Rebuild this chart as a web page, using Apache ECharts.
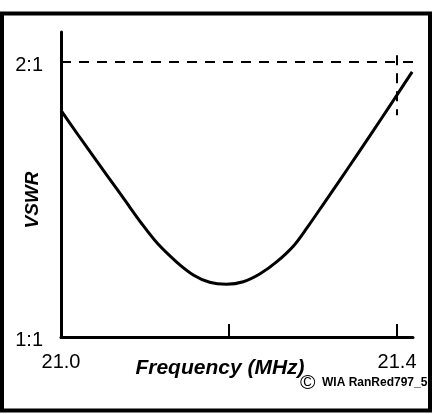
<!DOCTYPE html>
<html>
<head>
<meta charset="utf-8">
<script src="https://cdn.jsdelivr.net/npm/echarts@6/dist/echarts.min.js"></script>
<style>
html,body{margin:0;padding:0;background:#fff;}
#c{width:432px;height:414px;}
</style>
</head>
<body>
<div id="c"></div>
<script>
// Frequency (MHz) and VSWR values
var freq = [21.0, 21.020, 21.036, 21.056, 21.076, 21.096, 21.115, 21.138, 21.158, 21.177, 21.197, 21.217, 21.237, 21.257, 21.277, 21.293, 21.312, 21.332, 21.352, 21.372, 21.392, 21.400, 21.418];
var vswr = [1.825, 1.737, 1.668, 1.583, 1.498, 1.413, 1.340, 1.272, 1.225, 1.199, 1.192, 1.201, 1.230, 1.274, 1.332, 1.398, 1.482, 1.571, 1.661, 1.752, 1.844, 1.881, 1.965];
var xTickLabels = [21.0, 21.4];
var xTickMarks = [21.2, 21.4];
var yTickLabels = {1: '1:1', 2: '2:1'};
var refVswr = 2;          // 2:1 reference level
var bandEdge = 21.4;      // band edge marker
var bandEdgeSpan = [2.025, 1.807];
var xName = 'Frequency (MHz)';
var yName = 'VSWR';
var copyMark = '©';
var credit = 'WIA RanRed797_5';

var chart = echarts.init(document.getElementById('c'), null, {renderer: 'canvas'});
var font = '"Liberation Sans", Arial, sans-serif';
chart.setOption({
  animation: false,
  backgroundColor: '#fff',
  grid: {left: 61, right: 19, top: 32, bottom: 77, containLabel: false, outerBoundsMode: 'none'},
  xAxis: {
    type: 'value', min: 21.0, max: 21.419, interval: 0.2,
    axisLine: {show: true, lineStyle: {color: '#000', width: 3}},
    axisTick: {show: true, inside: true, length: 13, customValues: xTickMarks, lineStyle: {color: '#000', width: 2}},
    axisLabel: {show: true, customValues: xTickLabels, margin: 15, color: '#000', fontSize: 20, fontFamily: font,
      formatter: function (v) { return v.toFixed(1); }},
    splitLine: {show: false},
    name: xName, nameLocation: 'middle', nameGap: 21, nameMoveOverlap: false,
    nameTextStyle: {color: '#000', fontSize: 21, fontWeight: 'bold', fontStyle: 'italic', fontFamily: font, padding: [0, 34, 0, 0]}
  },
  yAxis: {
    type: 'value', min: 1, max: 2.11, interval: 1,
    axisLine: {show: true, lineStyle: {color: '#000', width: 3}},
    axisTick: {show: false},
    axisLabel: {show: true, margin: 18, color: '#000', fontSize: 20, fontFamily: font, verticalAlign: 'top', lineHeight: 6,
      formatter: function (v) { return yTickLabels[v] || ''; }},
    splitLine: {show: false},
    name: yName, nameLocation: 'middle', nameGap: 19, nameRotate: 90, nameMoveOverlap: false,
    nameTextStyle: {color: '#000', fontSize: 19, fontWeight: 'bold', fontStyle: 'italic', fontFamily: font, padding: [0, 31, 0, 0]}
  },
  series: [{
    type: 'line',
    data: freq.map(function (f, i) { return [f, vswr[i]]; }),
    smooth: 0.3,
    showSymbol: false,
    clip: false,
    lineStyle: {color: '#000', width: 3},
    markLine: {
      silent: true,
      symbol: ['none', 'none'],
      label: {show: false},
      lineStyle: {color: '#000', width: 2, type: [10, 8]},
      data: [
        [{coord: [21.0, refVswr]}, {coord: [21.419, refVswr]}],
        [{coord: [bandEdge, bandEdgeSpan[0]]}, {coord: [bandEdge, bandEdgeSpan[1]]}]
      ]
    }
  }],
  graphic: [
    {type: 'rect', shape: {x: 2, y: 13.5, width: 428, height: 397}, style: {fill: 'none', stroke: '#000', lineWidth: 4}, silent: true},
    {type: 'text', left: 300, top: 373, silent: true,
      style: {text: copyMark, fontSize: 21, fontFamily: font, fill: '#000'}},
    {type: 'text', left: 322, top: 377, silent: true,
      style: {text: credit, fontSize: 12, fontFamily: font, fill: '#000', fontWeight: 'bold'}}
  ]
});
</script>
</body>
</html>
